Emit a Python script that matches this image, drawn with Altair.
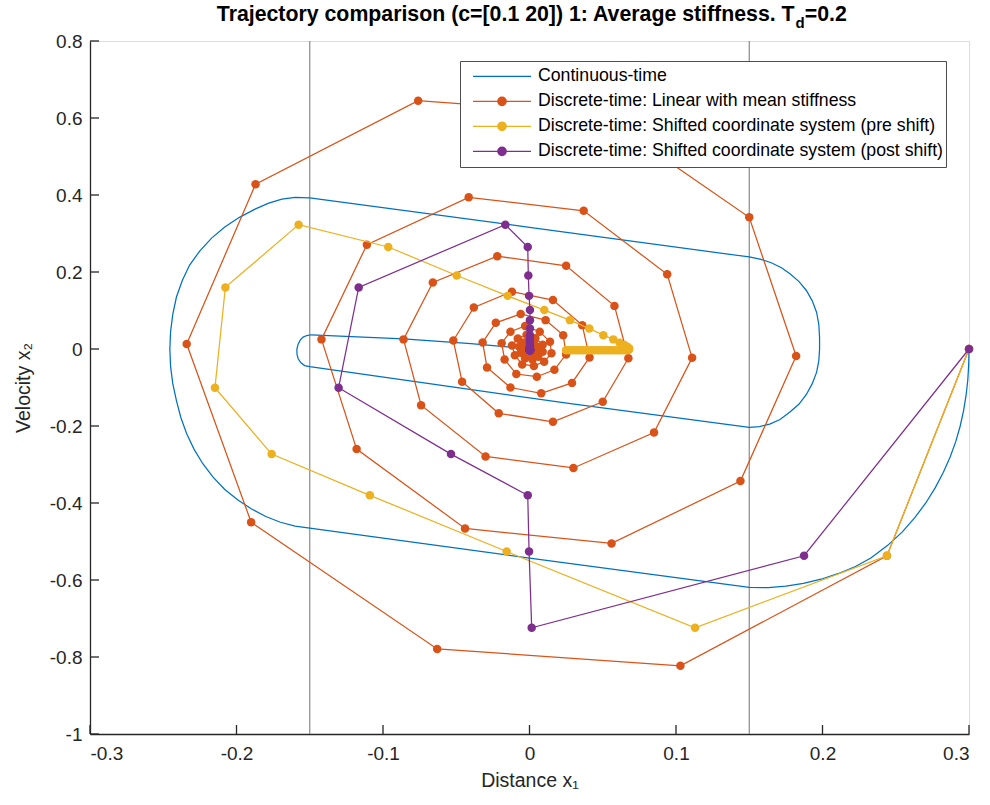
import altair as alt
import pandas as pd

FONT = "Liberation Sans"

# ---------------- data ----------------
names = [
    "Continuous-time",
    "Discrete-time: Linear with mean stiffness",
    "Discrete-time: Shifted coordinate system (pre shift)",
    "Discrete-time: Shifted coordinate system (post shift)",
]
colors = ["#0072BD", "#D95319", "#EDB120", "#7E2F8E"]

# continuous-time trajectory (distance, velocity)
ct_x1 = [0.300, 0.2998, 0.2992, 0.298, 0.2963, 0.294, 0.291, 0.2872, 0.2825, 0.277, 0.2705,
         0.263, 0.2545, 0.2445, 0.233, 0.2225, 0.211, 0.199, 0.187, 0.175, 0.163, 0.150,
         0.000,
         -0.150, -0.160, -0.170, -0.180, -0.190, -0.199, -0.208, -0.216, -0.223, -0.229,
         -0.234, -0.238, -0.241, -0.2435, -0.245, -0.2455, -0.245, -0.2435, -0.241, -0.237,
         -0.232, -0.225, -0.217, -0.208, -0.198, -0.187, -0.178, -0.169, -0.160, -0.150,
         0.000,
         0.150, 0.158, 0.165, 0.172, 0.178, 0.184, 0.189, 0.193, 0.196, 0.1975, 0.198, 0.198,
         0.1975, 0.196, 0.193, 0.189, 0.184, 0.178, 0.171, 0.164, 0.157, 0.150,
         0.028, -0.054,
         -0.150, -0.1535, -0.156, -0.1578, -0.1587, -0.1588, -0.158, -0.1565, -0.1545, -0.152,
         -0.149, -0.086, -0.040, 0.000]
ct_x2 = [0.000, -0.040, -0.080, -0.120, -0.160, -0.200, -0.240, -0.280, -0.320, -0.360, -0.400,
         -0.438, -0.475, -0.510, -0.543, -0.565, -0.583, -0.598, -0.609, -0.616, -0.620, -0.619,
         -0.543,
         -0.465, -0.460, -0.450, -0.435, -0.415, -0.392, -0.365, -0.333, -0.298, -0.260,
         -0.220, -0.178, -0.134, -0.090, -0.045, 0.000, 0.045, 0.090, 0.135, 0.178,
         0.218, 0.255, 0.288, 0.317, 0.342, 0.364, 0.379, 0.3895, 0.394, 0.3925,
         0.316,
         0.239, 0.233, 0.224, 0.211, 0.195, 0.175, 0.152, 0.125, 0.095, 0.063, 0.030, 0.000,
         -0.030, -0.060, -0.090, -0.118, -0.143, -0.163, -0.183, -0.195, -0.2015, -0.2035,
         -0.142, -0.098,
         -0.046, -0.043, -0.036, -0.026, -0.014, -0.001, 0.012, 0.023, 0.031, 0.035,
         0.037, 0.026, 0.014, 0.000]

# discrete-time: linear with mean stiffness
lin_x1 = [0.300, 0.244, 0.103, -0.063, -0.190, -0.234, -0.187, -0.076, 0.048, 0.150,
          0.182, 0.144, 0.056, -0.044, -0.118, -0.142, -0.111, -0.0415, 0.037, 0.094,
          0.111, 0.085, 0.030, -0.030, -0.074, -0.086, -0.066, -0.022, 0.025, 0.058,
          0.0675, 0.050, 0.016, -0.021, -0.046, -0.052, -0.038, -0.012, 0.016, 0.036,
          0.041, 0.029, 0.008, -0.013, -0.029, -0.032, -0.023, -0.006, 0.011, 0.023,
          0.025, 0.017, 0.005, -0.009, -0.017, -0.019, -0.013, -0.003, 0.007, 0.014,
          0.015, 0.010, 0.003, -0.005, -0.010, -0.012, -0.008, -0.002, 0.004, 0.009,
          0.009, 0.006, 0.002, -0.003, -0.006, -0.007, -0.005, -0.001, 0.003, 0.005,
          0.005, 0.003, 0.000, -0.002, -0.004, -0.004, -0.003, 0.000]
lin_x2 = [0.000, -0.537, -0.823, -0.779, -0.450, 0.013, 0.428, 0.645, 0.610, 0.342,
          -0.018, -0.343, -0.505, -0.466, -0.260, 0.025, 0.271, 0.394, 0.359, 0.194,
          -0.023, -0.217, -0.309, -0.279, -0.146, 0.025, 0.173, 0.241, 0.216, 0.112,
          -0.024, -0.137, -0.189, -0.167, -0.085, 0.022, 0.108, 0.149, 0.127, 0.062,
          -0.022, -0.088, -0.115, -0.100, -0.048, 0.017, 0.068, 0.091, 0.075, 0.036,
          -0.014, -0.054, -0.072, -0.065, -0.027, 0.015, 0.045, 0.060, 0.045, 0.019,
          -0.011, -0.033, -0.044, -0.040, -0.016, 0.009, 0.027, 0.037, 0.028, 0.011,
          -0.007, -0.020, -0.027, -0.024, -0.010, 0.006, 0.017, 0.022, 0.017, 0.006,
          -0.004, -0.012, -0.016, -0.014, -0.006, 0.004, 0.010, 0.013]

# discrete-time: shifted coordinate system, pre shift
pre_x1 = [0.300, 0.244, 0.113, -0.0156, -0.109, -0.176, -0.2147, -0.2076, -0.1576, -0.0964,
          -0.0497, -0.0149, 0.0101, 0.0276, 0.0408, 0.0504, 0.0572, 0.0615, 0.0648, 0.0668,
          0.068, 0.068, 0.067, 0.065, 0.063, 0.061, 0.059, 0.057, 0.055, 0.053, 0.051,
          0.049, 0.047, 0.045, 0.043, 0.041, 0.039, 0.037, 0.035, 0.033, 0.031, 0.029,
          0.027, 0.025]
shift_x2 = [0.000, -0.537, -0.724, -0.526, -0.380, -0.273, -0.1005, 0.160, 0.323, 0.265,
            0.191, 0.138, 0.101, 0.075, 0.053, 0.036, 0.025, 0.0165, 0.0105, 0.006,
            0.002, -0.001, -0.003, -0.003, -0.003, -0.003, -0.003, -0.003, -0.003, -0.003,
            -0.003, -0.003, -0.003, -0.003, -0.003, -0.003, -0.003, -0.003, -0.003, -0.003,
            -0.003, -0.003, -0.003, -0.003]

# discrete-time: shifted coordinate system, post shift
post_x1 = [0.300, 0.1874, 0.0015, -0.0003, -0.0012, -0.0536, -0.1303, -0.1166, -0.0165, -0.0012,
           -0.0008, -0.0003, 0.0003, 0.0003, 0.0003, 0.0003, 0.0003, 0.0003, 0.0003, 0.0003,
           0.0003, 0.0003, 0.0003, 0.0003, 0.0003, 0.0003, 0.0003, 0.0003, 0.0003, 0.0003,
           0.0003, 0.0003, 0.0003, 0.0003, 0.0003, 0.0003, 0.0003, 0.0003, 0.0003, 0.0003,
           0.0003, 0.0003, 0.0003, 0.0003]

limit_lines = [-0.15, 0.15]
x_ticks = [-0.3, -0.2, -0.1, 0, 0.1, 0.2, 0.3]
y_ticks = [-1, -0.8, -0.6, -0.4, -0.2, 0, 0.2, 0.4, 0.6, 0.8]

title_main = "Trajectory comparison (c=[0.1 20]) 1: Average stiffness. T"
title_sub = "d"
title_end = "=0.2"

# ---------------- frames ----------------
def frame(xs, ys, name):
    return pd.DataFrame({"x1": xs, "x2": ys, "idx": list(range(len(xs))), "series": name})

df_ct = frame(ct_x1, ct_x2, names[0])
df_lin = frame(lin_x1, lin_x2, names[1])
df_pre = frame(pre_x1, shift_x2, names[2])
df_post = frame(post_x1, shift_x2, names[3])

W, H = 879, 693
xscale = alt.Scale(domain=[-0.3, 0.3], nice=False, zero=False)
yscale = alt.Scale(domain=[-1, 0.8], nice=False, zero=False)
lab_expr = "datum.value < 0 ? '-' + format(-datum.value, '~g') : format(datum.value, '~g')"
AX = "#262626"

x_axis = alt.Axis(values=x_ticks, ticks=False, grid=False, domain=True, domainColor=AX,
                  domainWidth=1.3, labelFont=FONT, labelFontSize=19, labelColor=AX,
                  labelPadding=10, labelExpr=lab_expr, title="Distance x\u2081",
                  titleFont=FONT, titleFontSize=19.5, titleFontWeight="normal",
                  titleColor=AX, titlePadding=8)
y_axis = alt.Axis(values=y_ticks, ticks=False, grid=False, domain=True, domainColor=AX,
                  domainWidth=1.3, labelFont=FONT, labelFontSize=19, labelColor=AX,
                  labelPadding=8, labelExpr=lab_expr, title="Velocity x\u2082",
                  titleFont=FONT, titleFontSize=19.5, titleFontWeight="normal",
                  titleColor=AX, titlePadding=16)

X = alt.X("x1:Q", scale=xscale, axis=x_axis)
Y = alt.Y("x2:Q", scale=yscale, axis=y_axis)

rules = alt.Chart(pd.DataFrame({"x1": limit_lines})).mark_rule(
    color="#8a8a8a", strokeWidth=1.2).encode(x=X)

# inward (MATLAB style) tick marks
x_tick_marks = alt.Chart(pd.DataFrame({"x1": x_ticks})).mark_rule(
    color=AX, strokeWidth=1.3).encode(x=X, y=alt.value(H), y2=alt.value(H - 9))
y_tick_marks = alt.Chart(pd.DataFrame({"x2": y_ticks})).mark_rule(
    color=AX, strokeWidth=1.3).encode(y=Y, x=alt.value(0), x2=alt.value(9))

def line(df, col):
    return alt.Chart(df).mark_line(color=col, strokeWidth=1.25).encode(x=X, y=Y, order="idx:Q")

def dots(df, col):
    return alt.Chart(df).mark_circle(color=col, size=72, opacity=1).encode(x=X, y=Y)

# legend-only layer (no visible marks): line sample with optional dot
leg_dot = ("M-0.735,0L0.97,0M-0.007,0A0.125,0.125,0,1,1,0.243,0"
           "A0.125,0.125,0,1,1,-0.007,0Z")
leg_line_only = "M-0.735,0L0.97,0"
shapes = [leg_line_only, leg_dot, leg_dot, leg_dot]
legend = alt.Legend(orient="none", legendX=370, legendY=20, title=None,
                    fillColor="white", strokeColor="#4d4d4d", padding=3,
                    labelFont=FONT, labelFontSize=17.7, labelColor="black",
                    labelLimit=1000, labelOffset=5, symbolSize=68 * 68,
                    symbolStrokeWidth=1.25, clipHeight=24.7, rowPadding=0)
leg_df = pd.DataFrame({"series": names, "x1": [0.0] * 4, "x2": [0.0] * 4})
legend_layer = alt.Chart(leg_df).transform_filter("false").mark_point(
    filled=True, opacity=1).encode(
    x=X, y=Y,
    fill=alt.Fill("series:N", scale=alt.Scale(domain=names, range=colors), legend=legend),
    stroke=alt.Stroke("series:N", scale=alt.Scale(domain=names, range=colors), legend=legend),
    shape=alt.Shape("series:N", scale=alt.Scale(domain=names, range=shapes), legend=legend),
)

def txt(t, x, y, size, align):
    return alt.Chart(pd.DataFrame({"t": [t]})).mark_text(
        align=align, baseline="alphabetic", font=FONT, fontSize=size,
        fontWeight="bold", color="black").encode(
        x=alt.value(x), y=alt.value(y), text="t:N")

title_layers = [
    txt(title_main, 704.6, -20, 21.3, "right"),
    txt(title_sub, 705.5, -13, 15, "left"),
    txt(title_end, 714.7, -20, 21.3, "left"),
]

chart = alt.layer(
    rules,
    x_tick_marks, y_tick_marks,
    line(df_ct, colors[0]),
    line(df_lin, colors[1]), dots(df_lin, colors[1]),
    line(df_pre, colors[2]), dots(df_pre, colors[2]),
    line(df_post, colors[3]), dots(df_post, colors[3]),
    legend_layer,
    *title_layers,
).properties(
    width=W, height=H,
    autosize=alt.AutoSizeParams(type="none"),
    padding={"left": 90, "top": 41, "right": 21, "bottom": 71},
).configure_view(stroke=None).configure(background="white")

chart.save("out.html", embed_options={"renderer": "svg", "actions": False})
